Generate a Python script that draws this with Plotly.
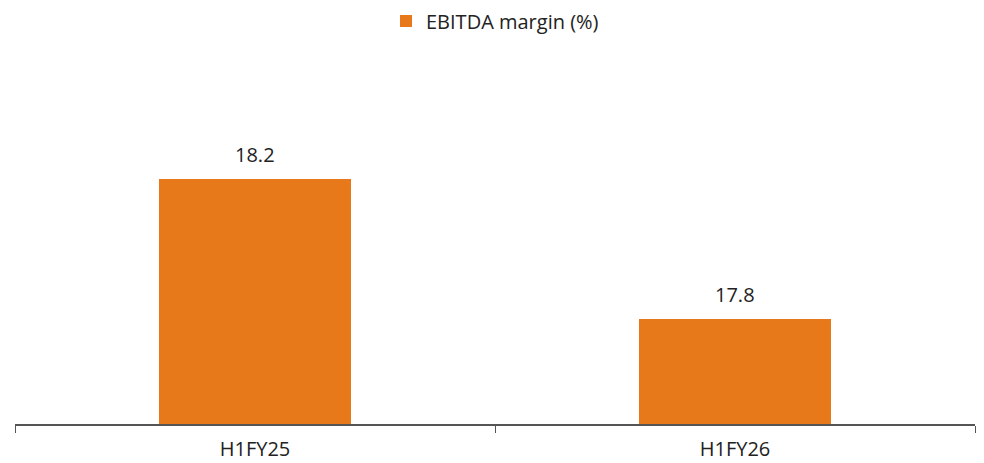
import plotly.graph_objects as go

categories = ["H1FY25", "H1FY26"]
ebitda_margin = [18.2, 17.8]
series_name = "EBITDA margin (%)"

color = "#E8791A"
font_family = "Open Sans, Noto Sans, sans-serif"

fig = go.Figure()
fig.add_trace(go.Bar(
    x=categories, y=ebitda_margin, name=series_name,
    marker=dict(color=color, line=dict(width=0)),
    width=0.4, showlegend=True,
))
for c, v in zip(categories, ebitda_margin):
    fig.add_annotation(x=c, y=v, text=f"{v:.1f}", showarrow=False,
                       yanchor="bottom", yshift=9,
                       font=dict(size=20, color="#222222", family=font_family))

fig.update_layout(
    width=984, height=463,
    margin=dict(l=15, r=9, t=74, b=39),
    paper_bgcolor="white", plot_bgcolor="white",
    font=dict(family=font_family, size=20, color="#222222"),
    legend=dict(orientation="h", x=0.5, xanchor="center",
                yref="container", y=1 - 21/463, yanchor="middle",
                font=dict(size=20), itemwidth=30),
    bargap=0.6,
)
fig.update_xaxes(
    range=[-0.5, 1.5], showline=True, linecolor="#555555", linewidth=1.5,
    ticks="outside", tickson="boundaries", ticklen=7, tickcolor="#555555",
    tickwidth=1, showgrid=False, tickfont=dict(size=20, color="#222222"),
    ticklabelstandoff=6, automargin=False,
)
fig.update_yaxes(range=[17.5, 18.5], visible=False, showgrid=False)

fig.write_html("out.html")
